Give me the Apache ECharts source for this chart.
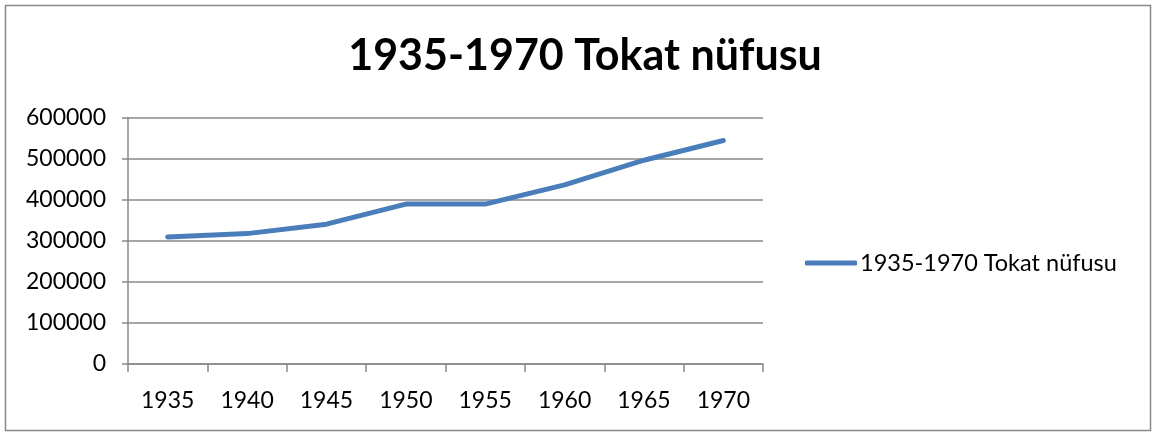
<!DOCTYPE html>
<html>
<head>
<meta charset="utf-8">
<script src="https://cdn.jsdelivr.net/npm/echarts@6/dist/echarts.min.js"></script>
<style>
  html, body { margin: 0; padding: 0; background: #fff; }
  #chart { width: 1152px; height: 432px; }
</style>
</head>
<body>
<div id="chart"></div>
<script>
// data
var years = ['1935', '1940', '1945', '1950', '1955', '1960', '1965', '1970']
var population = [310000, 318000, 341000, 390000, 390000, 437000, 497000, 545000]
var seriesName = '1935-1970 Tokat nüfusu'
var titleText = '1935-1970 Tokat nüfusu'

var FONT = 'Lato'
var chart = echarts.init(document.getElementById('chart'))

var option = {
  backgroundColor: '#fff',
  animation: false,
  // outer frame
  graphic: [{
    type: 'rect',
    shape: { x: 5.5, y: 5.5, width: 1145, height: 425 },
    style: { fill: 'none', stroke: '#898989', lineWidth: 1.5 },
    silent: true
  }],
  title: {
    text: titleText,
    left: 580,
    top: 30,
    textAlign: 'center',
    textStyle: {
      fontFamily: FONT,
      fontSize: 43,
      fontWeight: 'bold',
      color: '#000'
    }
  },
  legend: {
    left: 800,
    top: 246,
    itemWidth: 52,
    itemHeight: 5,
    itemGap: 0,
    icon: 'roundRect',
    textStyle: { fontFamily: FONT, fontSize: 23.5, color: '#000', padding: [0, 0, 0, -2] },
    data: [seriesName]
  },
  grid: { left: 128, right: 389, top: 118, bottom: 68 },
  xAxis: {
    type: 'category',
    data: years,
    boundaryGap: true,
    axisLine: { lineStyle: { color: '#898989', width: 1.5 } },
    axisTick: { show: true, length: 8, lineStyle: { color: '#898989', width: 1.5 } },
    axisLabel: { fontFamily: FONT, fontSize: 23, color: '#000', margin: 25 }
  },
  yAxis: {
    type: 'value',
    min: 0,
    max: 600000,
    interval: 100000,
    axisLine: { show: true, lineStyle: { color: '#898989', width: 1.5 } },
    axisTick: { show: true, length: 6, lineStyle: { color: '#898989', width: 1.5 } },
    axisLabel: {
      fontFamily: FONT, fontSize: 23, color: '#000', margin: 22,
      formatter: function (v) { return String(v) }
    },
    splitLine: { lineStyle: { color: '#898989', width: 1.5 } }
  },
  series: [{
    name: seriesName,
    type: 'line',
    data: population,
    symbol: 'none',
    lineStyle: { color: '#4A7EBB', width: 5, cap: 'round', join: 'round' },
    itemStyle: { color: '#4A7EBB' }
  }]
}

chart.setOption(option)
</script>
</body>
</html>
